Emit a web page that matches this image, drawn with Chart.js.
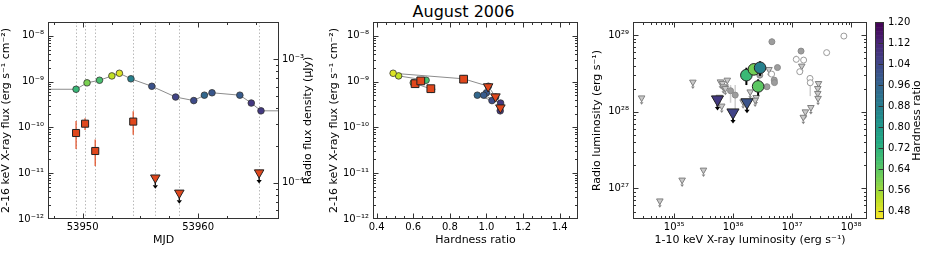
<!DOCTYPE html>
<html>
<head>
<meta charset="utf-8">
<script src="https://cdn.jsdelivr.net/npm/chart.js@4.4.1/dist/chart.umd.min.js"></script>
<style>
  html, body { margin: 0; padding: 0; background: #fff; }
  #wrap { position: relative; width: 927px; height: 253px; overflow: hidden; font-family: 'DejaVu Sans', sans-serif; }
  canvas { position: absolute; top: 0; }
  #title { position: absolute; left: 0; top: 2px; width: 927px; text-align: center; font-size: 16px; line-height: 20px; color: #000; }
</style>
</head>
<body>
<div id="wrap">
  <div id="title">August 2006</div>
  <canvas id="lc" width="320" height="253" style="left:0"></canvas>
  <canvas id="hr" width="265" height="253" style="left:320px"></canvas>
  <canvas id="lum" width="290" height="253" style="left:585px"></canvas>
  <canvas id="cbar" width="59" height="253" style="left:868px"></canvas>
</div>
<script>
// X-ray monitoring, time order
const xrayMJD = [53949.43, 53950.38, 53951.46, 53952.53, 53953.18, 53954.18, 53955.99,
                 53958.05, 53959.62, 53960.54, 53961.20, 53963.61, 53964.60, 53965.44];
const xrayFlux = [6.8e-10, 9.4e-10, 1.07e-9, 1.33e-9, 1.52e-9, 1.15e-9, 7.9e-10,
                  4.6e-10, 3.85e-10, 5.05e-10, 5.7e-10, 5.05e-10, 3.4e-10, 2.3e-10];
const xrayHR = [0.70, 0.60, 0.67, 0.52, 0.49, 0.875, 1.01, 1.05, 1.03, 0.95, 1.00, 0.985, 1.077, 1.075];
// trend line runs flat out to the axis edges
const trendEdgeMJD = [53947, 53967];

// radio detections and upper limits
const radioMJD = [53949.43, 53950.21, 53951.09, 53954.38];
const radioFlux = [2.53e-4, 3.01e-4, 1.81e-4, 3.13e-4];
const radioLo = [1.88e-4, 2.67e-4, 1.37e-4, 2.45e-4];
const radioHi = [3.16e-4, 3.33e-4, 2.24e-4, 3.8e-4];
const limitMJD = [53956.29, 53958.37, 53965.28];
const limitFlux = [1.1e-4, 8.3e-5, 1.21e-4];

// radio epochs placed on the hardness-intensity diagram
const radioHR = [0.696, 0.61, 0.641, 0.875];
const radioXray = [7.0e-10, 9.0e-10, 1.035e-9, 1.13e-9];
const limitHR = [1.009, 1.049, 1.076];
const limitXray = [7.8e-10, 4.7e-10, 2.7e-10];

// radio / X-ray luminosity plane, this outburst
const detLx = [1.67e36, 2.24e36, 2.64e36, 2.85e36];
const detLr = [3.0e28, 3.57e28, 2.14e28, 3.75e28];
const detLrLo = [2.23e28, 3.17e28, 1.62e28, 2.94e28];
const detLrHi = [3.75e28, 3.95e28, 2.65e28, 4.55e28];
const detHR = [0.696, 0.61, 0.641, 0.875];
const limLx = [1.71e36, 9.9e35, 5.41e35];
const limLr = [1.33e28, 9.8e27, 1.45e28];
const limHR = [1.009, 1.049, 1.076];

// comparison sample (grey)
const refLimLx = [2.8e34, 5.7e34, 1.36e35, 3.13e35, 2.07e35, 6.07e35, 6.56e35, 7.94e35, 6.8e35, 7.36e35,
                  6.38e35, 5.8e35, 1.94e36, 2.45e36, 2.35e36, 1.47e36, 4.03e36, 1.45e37, 2.79e37, 2.71e37,
                  2.71e37, 2.74e37, 2.07e37, 1.67e37, 1.54e37];
const refLimLr = [1.52e28, 6.9e26, 1.29e27, 1.74e27, 2.44e28, 2.46e28, 2.35e28, 2.59e28, 2.12e28, 2.02e28,
                  1.19e28, 1.55e28, 1.82e28, 1.54e28, 1.42e28, 1.35e28, 3.57e28, 3.95e28, 2.34e28, 2.02e28,
                  1.74e28, 1.5e28, 1.14e28, 1.0e28, 8.5e27];
const refDetLx = [4.52e36, 1.41e37, 5.62e36, 4.95e36, 5.0e36, 3.73e36, 9.0e35, 1.08e36, 2.82e36];
const refDetLr = [8.18e28, 6.18e28, 3.77e28, 2.59e28, 2.4e28, 2.12e28, 1.88e28, 1.65e28, 3.0e28];
const refDetLo = [7.4e28, 5.8e28, 3.5e28, 2.4e28, 2.25e28, 1.95e28, 1.31e28, 1.0e28, 2.8e28];
const refDetHi = [9.0e28, 6.6e28, 4.0e28, 2.8e28, 2.55e28, 2.3e28, 2.23e28, 2.23e28, 3.2e28];
const refOpenLx = [7.5e37, 3.83e37, 1.17e37, 1.56e37, 1.34e37, 2.0e37, 2.02e37, 4.47e36];
const refOpenLr = [9.7e28, 5.9e28, 4.82e28, 4.72e28, 3.33e28, 2.72e28, 2.39e28, 3.1e28];
const refOpenLo = [9.4e28, 5.7e28, 4.6e28, 4.5e28, 3.2e28, 2.6e28, 1.6e28, 3.0e28];
const refOpenHi = [1.0e29, 6.1e28, 5.4e28, 4.95e28, 3.45e28, 2.85e28, 2.6e28, 3.2e28];

// tick labels
const fluxTicks = [1e-12, 1e-11, 1e-10, 1e-9, 1e-8];
const radioTicks = [1e-4, 1e-3];
const mjdTicks = [53950, 53960];
const hrTicks = [0.4, 0.6, 0.8, 1.0, 1.2, 1.4];
const lxTicks = [1e35, 1e36, 1e37, 1e38];
const lrTicks = [1e27, 1e28, 1e29];
const cbarTicks = [0.48, 0.56, 0.64, 0.72, 0.80, 0.88, 0.96, 1.04, 1.12, 1.20];

const HR_MIN = 0.45, HR_MAX = 1.20;
const RADIO = '#e0471c';
const FRAME = '#333';

Chart.defaults.font.family = '"DejaVu Sans", sans-serif';
Chart.defaults.color = '#000';

const VIRIDIS = ['#440154', '#482475', '#414487', '#355f8d', '#2a788e', '#21918c',
                 '#22a884', '#44bf70', '#7ad151', '#bddf26', '#fde725'];
function hex(c) { return [1, 3, 5].map(i => parseInt(c.slice(i, i + 2), 16)); }
function hrColor(h) {
    // reversed viridis: soft (low ratio) is yellow
    let t = 1 - (h - HR_MIN) / (HR_MAX - HR_MIN);
    t = Math.min(1, Math.max(0, t)) * (VIRIDIS.length - 1);
    const i = Math.min(Math.floor(t), VIRIDIS.length - 2), f = t - i;
    const a = hex(VIRIDIS[i]), b = hex(VIRIDIS[i + 1]);
    return 'rgb(' + a.map((v, k) => Math.round(v + (b[k] - v) * f)).join(',') + ')';
}

const SUP = { '-': '⁻', '0': '⁰', '1': '¹', '2': '²', '3': '³', '4': '⁴', '5': '⁵', '6': '⁶', '7': '⁷', '8': '⁸', '9': '⁹' };
const pow10 = v => '10' + String(Math.round(Math.log10(v))).split('').map(c => SUP[c]).join('');

const pts = (xs, ys) => xs.map((x, i) => ({ x: x, y: ys[i] }));

function axis(o) {
    const horiz = o.position === 'bottom' || o.position === 'top';
    return {
        type: o.type, position: o.position, min: o.min, max: o.max, display: o.display !== false,
        grid: { display: false, drawTicks: false },
        border: { display: false },
        afterBuildTicks: s => { s.ticks = o.ticks.map(v => ({ value: v })); },
        afterFit: s => { if (horiz) s.height = o.size; else s.width = o.size; },
        ticks: { callback: o.fmt, autoSkip: false, maxRotation: 0, minRotation: 0,
                 padding: o.pad !== undefined ? o.pad : (horiz ? 2 : 4), color: '#000', font: { size: 10 } },
        title: o.title ? { display: true, text: o.title, color: '#000', font: { size: 11 }, padding: o.titlePad }
                       : { display: false }
    };
}

function logMinors(s) {
    const out = [];
    for (let e = Math.floor(Math.log10(s.min)); e <= Math.ceil(Math.log10(s.max)); e++) {
        for (let k = 2; k <= 9; k++) {
            const v = k * Math.pow(10, e);
            if (v >= s.min && v <= s.max) out.push(v);
        }
    }
    return out;
}
function linMinors(step) {
    return s => {
        const out = [];
        for (let n = Math.ceil(s.min / step - 1e-9); n * step <= s.max + 1e-9; n++) out.push(n * step);
        return out;
    };
}

// axes box plus inward ticks, matplotlib style
function frame(sides) {
    return {
        id: 'frame',
        afterDatasetsDraw(chart) {
            const { ctx, chartArea: a } = chart;
            const L = Math.round(a.left) + 0.5, R = Math.round(a.right) - 0.5;
            const T = Math.round(a.top) + 0.5, B = Math.round(a.bottom) - 0.5;
            ctx.save();
            ctx.strokeStyle = FRAME;
            ctx.lineWidth = 1;
            ctx.strokeRect(L, T, R - L, B - T);
            sides.forEach(([side, id, minors]) => {
                const s = chart.scales[id];
                const tick = (v, len) => {
                    const p = Math.round(s.getPixelForValue(v)) + 0.5;
                    ctx.beginPath();
                    if (side === 'left') { if (p < T || p > B) return; ctx.moveTo(L, p); ctx.lineTo(L + len, p); }
                    if (side === 'right') { if (p < T || p > B) return; ctx.moveTo(R, p); ctx.lineTo(R - len, p); }
                    if (side === 'bottom') { if (p < L || p > R) return; ctx.moveTo(p, B); ctx.lineTo(p, B - len); }
                    if (side === 'top') { if (p < L || p > R) return; ctx.moveTo(p, T); ctx.lineTo(p, T + len); }
                    ctx.stroke();
                };
                if (minors) minors(s).forEach(v => tick(v, 2.5));
                s.ticks.forEach(t => tick(t.value, 5));
            });
            ctx.restore();
        }
    };
}

// error bars and upper-limit arrows, drawn under each dataset's markers
const marks = {
    id: 'marks',
    beforeDatasetDraw(chart, args) {
        const ds = chart.data.datasets[args.index];
        const meta = args.meta;
        const ys = chart.scales[meta.yAxisID];
        const ctx = chart.ctx;
        ctx.save();
        if (ds.errLo) {
            ctx.strokeStyle = ds.errColor;
            ctx.lineWidth = ds.errWidth;
            meta.data.forEach((pt, i) => {
                ctx.beginPath();
                ctx.moveTo(pt.x, ys.getPixelForValue(ds.errLo[i]));
                ctx.lineTo(pt.x, ys.getPixelForValue(ds.errHi[i]));
                ctx.stroke();
            });
        }
        if (ds.arrow) {
            const a = ds.arrow;
            ctx.strokeStyle = a.color;
            ctx.fillStyle = a.color;
            ctx.lineWidth = a.width;
            meta.data.forEach(pt => {
                const y1 = pt.y + a.len;
                ctx.beginPath();
                ctx.moveTo(pt.x, pt.y);
                ctx.lineTo(pt.x, y1 - a.head);
                ctx.stroke();
                ctx.beginPath();
                ctx.moveTo(pt.x - a.head * 0.75, y1 - a.head);
                ctx.lineTo(pt.x + a.head * 0.75, y1 - a.head);
                ctx.lineTo(pt.x, y1);
                ctx.closePath();
                ctx.fill();
            });
        }
        ctx.restore();
    }
};

function sideTitle(text, dx) {
    return {
        id: 'sideTitle',
        afterDraw(chart) {
            const { ctx, chartArea: a } = chart;
            ctx.save();
            ctx.translate(a.right + dx, (a.top + a.bottom) / 2);
            ctx.rotate(-Math.PI / 2);
            ctx.font = '11px "DejaVu Sans", sans-serif';
            ctx.fillStyle = '#000';
            ctx.textAlign = 'center';
            ctx.textBaseline = 'middle';
            ctx.fillText(text, 0, 0);
            ctx.restore();
        }
    };
}

// dotted guides at the radio epochs
const epochLines = {
    id: 'epochLines',
    beforeDatasetsDraw(chart) {
        const { ctx, chartArea: a, scales: { x } } = chart;
        ctx.save();
        ctx.strokeStyle = '#a8a8a8';
        ctx.lineWidth = 0.8;
        ctx.setLineDash([1.5, 2]);
        radioMJD.concat(limitMJD).forEach(m => {
            const p = Math.round(x.getPixelForValue(m)) + 0.5;
            ctx.beginPath();
            ctx.moveTo(p, a.top);
            ctx.lineTo(p, a.bottom);
            ctx.stroke();
        });
        ctx.restore();
    }
};

const base = { responsive: false, animation: false, events: [],
               plugins: { legend: { display: false }, tooltip: { enabled: false } } };

// light curve
const trend = [{ x: trendEdgeMJD[0], y: xrayFlux[0] }]
    .concat(pts(xrayMJD, xrayFlux), [{ x: trendEdgeMJD[1], y: xrayFlux[xrayFlux.length - 1] }]);

new Chart(document.getElementById('lc'), {
    type: 'scatter',
    data: {
        datasets: [
            { data: trend, showLine: true, borderColor: '#8c8c8c', borderWidth: 1, pointRadius: 0, order: 9 },
            { data: pts(xrayMJD, xrayFlux), pointRadius: 3.3, pointBackgroundColor: xrayHR.map(hrColor),
              pointBorderColor: '#333', pointBorderWidth: 0.8, order: 5 },
            { data: pts(radioMJD, radioFlux), yAxisID: 'y2', pointStyle: 'rect', pointRadius: 5,
              pointBackgroundColor: RADIO, pointBorderColor: '#222', pointBorderWidth: 1,
              errLo: radioLo, errHi: radioHi, errColor: 'rgba(226,84,44,0.85)', errWidth: 1.5, order: 2 },
            { data: pts(limitMJD, limitFlux), yAxisID: 'y2', pointStyle: 'triangle', pointRotation: 180,
              pointRadius: 5.5, pointBackgroundColor: RADIO, pointBorderColor: '#222', pointBorderWidth: 1,
              arrow: { len: 11, head: 3.5, color: '#000', width: 1.3 }, order: 1 }
        ]
    },
    options: Object.assign({}, base, {
        layout: { padding: { top: 22 } },
        scales: {
            x: axis({ type: 'linear', position: 'bottom', min: 53947, max: 53967, ticks: mjdTicks,
                      fmt: v => String(v), size: 34, title: 'MJD', titlePad: { top: 0, bottom: 6 } }),
            y: axis({ type: 'logarithmic', position: 'left', min: 1e-12, max: 2e-8, ticks: fluxTicks,
                      fmt: pow10, size: 48, title: '2-16 keV X-ray flux (erg s⁻¹ cm⁻²)', titlePad: { top: 0 } }),
            y2: axis({ type: 'logarithmic', position: 'right', min: 5.1e-5, max: 2e-3, ticks: radioTicks,
                       fmt: pow10, size: 41, pad: 3 })
        }
    }),
    plugins: [marks, epochLines, sideTitle('Radio flux density (μJy)', 29),
              frame([['left', 'y', logMinors], ['right', 'y2', logMinors],
                     ['bottom', 'x', linMinors(2.5)], ['top', 'x', linMinors(2.5)]])]
});

// hardness-intensity diagram
new Chart(document.getElementById('hr'), {
    type: 'scatter',
    data: {
        datasets: [
            { data: pts(xrayHR, xrayFlux), showLine: true, borderColor: '#8c8c8c', borderWidth: 1,
              pointRadius: 3.3, pointBackgroundColor: xrayHR.map(hrColor),
              pointBorderColor: '#333', pointBorderWidth: 0.8, order: 5 },
            { data: pts(radioHR, radioXray), pointStyle: 'rect', pointRadius: 5.5,
              pointBackgroundColor: RADIO, pointBorderColor: '#222', pointBorderWidth: 1, order: 2 },
            { data: pts(limitHR, limitXray), pointStyle: 'triangle', pointRotation: 180, pointRadius: 5.5,
              pointBackgroundColor: RADIO, pointBorderColor: '#222', pointBorderWidth: 1, order: 1 }
        ]
    },
    options: Object.assign({}, base, {
        layout: { padding: { top: 22, right: 7 } },
        scales: {
            x: axis({ type: 'linear', position: 'bottom', min: 0.38, max: 1.5, ticks: hrTicks,
                      fmt: v => v.toFixed(1), size: 34, title: 'Hardness ratio', titlePad: { top: 0, bottom: 6 } }),
            y: axis({ type: 'logarithmic', position: 'left', min: 1e-12, max: 2e-8, ticks: fluxTicks,
                      fmt: pow10, size: 53, title: '2-16 keV X-ray flux (erg s⁻¹ cm⁻²)', titlePad: { top: 8 } })
        }
    }),
    plugins: [frame([['left', 'y', logMinors], ['right', 'y', logMinors],
                     ['bottom', 'x', linMinors(0.05)], ['top', 'x', linMinors(0.05)]])]
});

// radio / X-ray correlation
new Chart(document.getElementById('lum'), {
    type: 'scatter',
    data: {
        datasets: [
            { data: pts(refLimLx, refLimLr), pointStyle: 'triangle', pointRotation: 180, pointRadius: 3.8,
              pointBackgroundColor: '#c9c9c9', pointBorderColor: '#808080', pointBorderWidth: 1,
              arrow: { len: 7, head: 2.5, color: '#858585', width: 1 }, order: 9 },
            { data: pts(refDetLx, refDetLr), pointRadius: 3, pointBackgroundColor: '#9d9d9d',
              pointBorderColor: '#8a8a8a', pointBorderWidth: 1,
              errLo: refDetLo, errHi: refDetHi, errColor: '#cfcfcf', errWidth: 1.5, order: 8 },
            { data: pts(refOpenLx, refOpenLr), pointRadius: 3, pointBackgroundColor: '#fff',
              pointBorderColor: '#9a9a9a', pointBorderWidth: 1,
              errLo: refOpenLo, errHi: refOpenHi, errColor: '#cfcfcf', errWidth: 1.5, order: 7 },
            { data: pts(limLx, limLr), pointStyle: 'triangle', pointRotation: 180, pointRadius: 7,
              pointBackgroundColor: limHR.map(hrColor), pointBorderColor: '#222', pointBorderWidth: 1,
              arrow: { len: 11, head: 3.5, color: '#000', width: 2 }, order: 2 },
            { data: pts(detLx, detLr), pointRadius: 5.8, pointBackgroundColor: detHR.map(hrColor),
              pointBorderColor: '#222', pointBorderWidth: 1,
              errLo: detLrLo, errHi: detLrHi, errColor: '#000', errWidth: 2, order: 1 }
        ]
    },
    options: Object.assign({}, base, {
        layout: { padding: { top: 22, right: 4 } },
        scales: {
            x: axis({ type: 'logarithmic', position: 'bottom', min: 2e34, max: 1.85e38, ticks: lxTicks,
                      fmt: pow10, size: 34, title: '1-10 keV X-ray luminosity (erg s⁻¹)',
                      titlePad: { top: 0, bottom: 6 } }),
            y: axis({ type: 'logarithmic', position: 'left', min: 4.0e26, max: 1.48e29, ticks: lrTicks,
                      fmt: pow10, size: 48, title: 'Radio luminosity (erg s⁻¹)', titlePad: { top: 6 } })
        }
    }),
    plugins: [marks, frame([['left', 'y', logMinors], ['right', 'y', logMinors],
                            ['bottom', 'x', logMinors], ['top', 'x', logMinors]])]
});

// colour bar
const cbarFill = {
    id: 'cbarFill',
    beforeDatasetsDraw(chart) {
        const { ctx, chartArea: a, scales: { y } } = chart;
        const n = 150, step = (y.max - y.min) / n;
        for (let i = 0; i < n; i++) {
            const v = y.min + i * step;
            const p0 = y.getPixelForValue(v), p1 = y.getPixelForValue(v + step);
            ctx.fillStyle = hrColor(v + step / 2);
            ctx.fillRect(a.left, p1, a.width, p0 - p1 + 0.6);
        }
    }
};

new Chart(document.getElementById('cbar'), {
    type: 'scatter',
    data: { datasets: [] },
    options: Object.assign({}, base, {
        layout: { padding: { top: 22, left: 7, bottom: 34 } },
        scales: {
            x: { display: false, min: 0, max: 1 },
            y: axis({ type: 'linear', position: 'right', min: HR_MIN, max: HR_MAX, ticks: cbarTicks,
                      fmt: v => v.toFixed(2), size: 43 })
        }
    }),
    plugins: [cbarFill, sideTitle('Hardness ratio', 33), frame([['right', 'y', null]])]
});
</script>
</body>
</html>
